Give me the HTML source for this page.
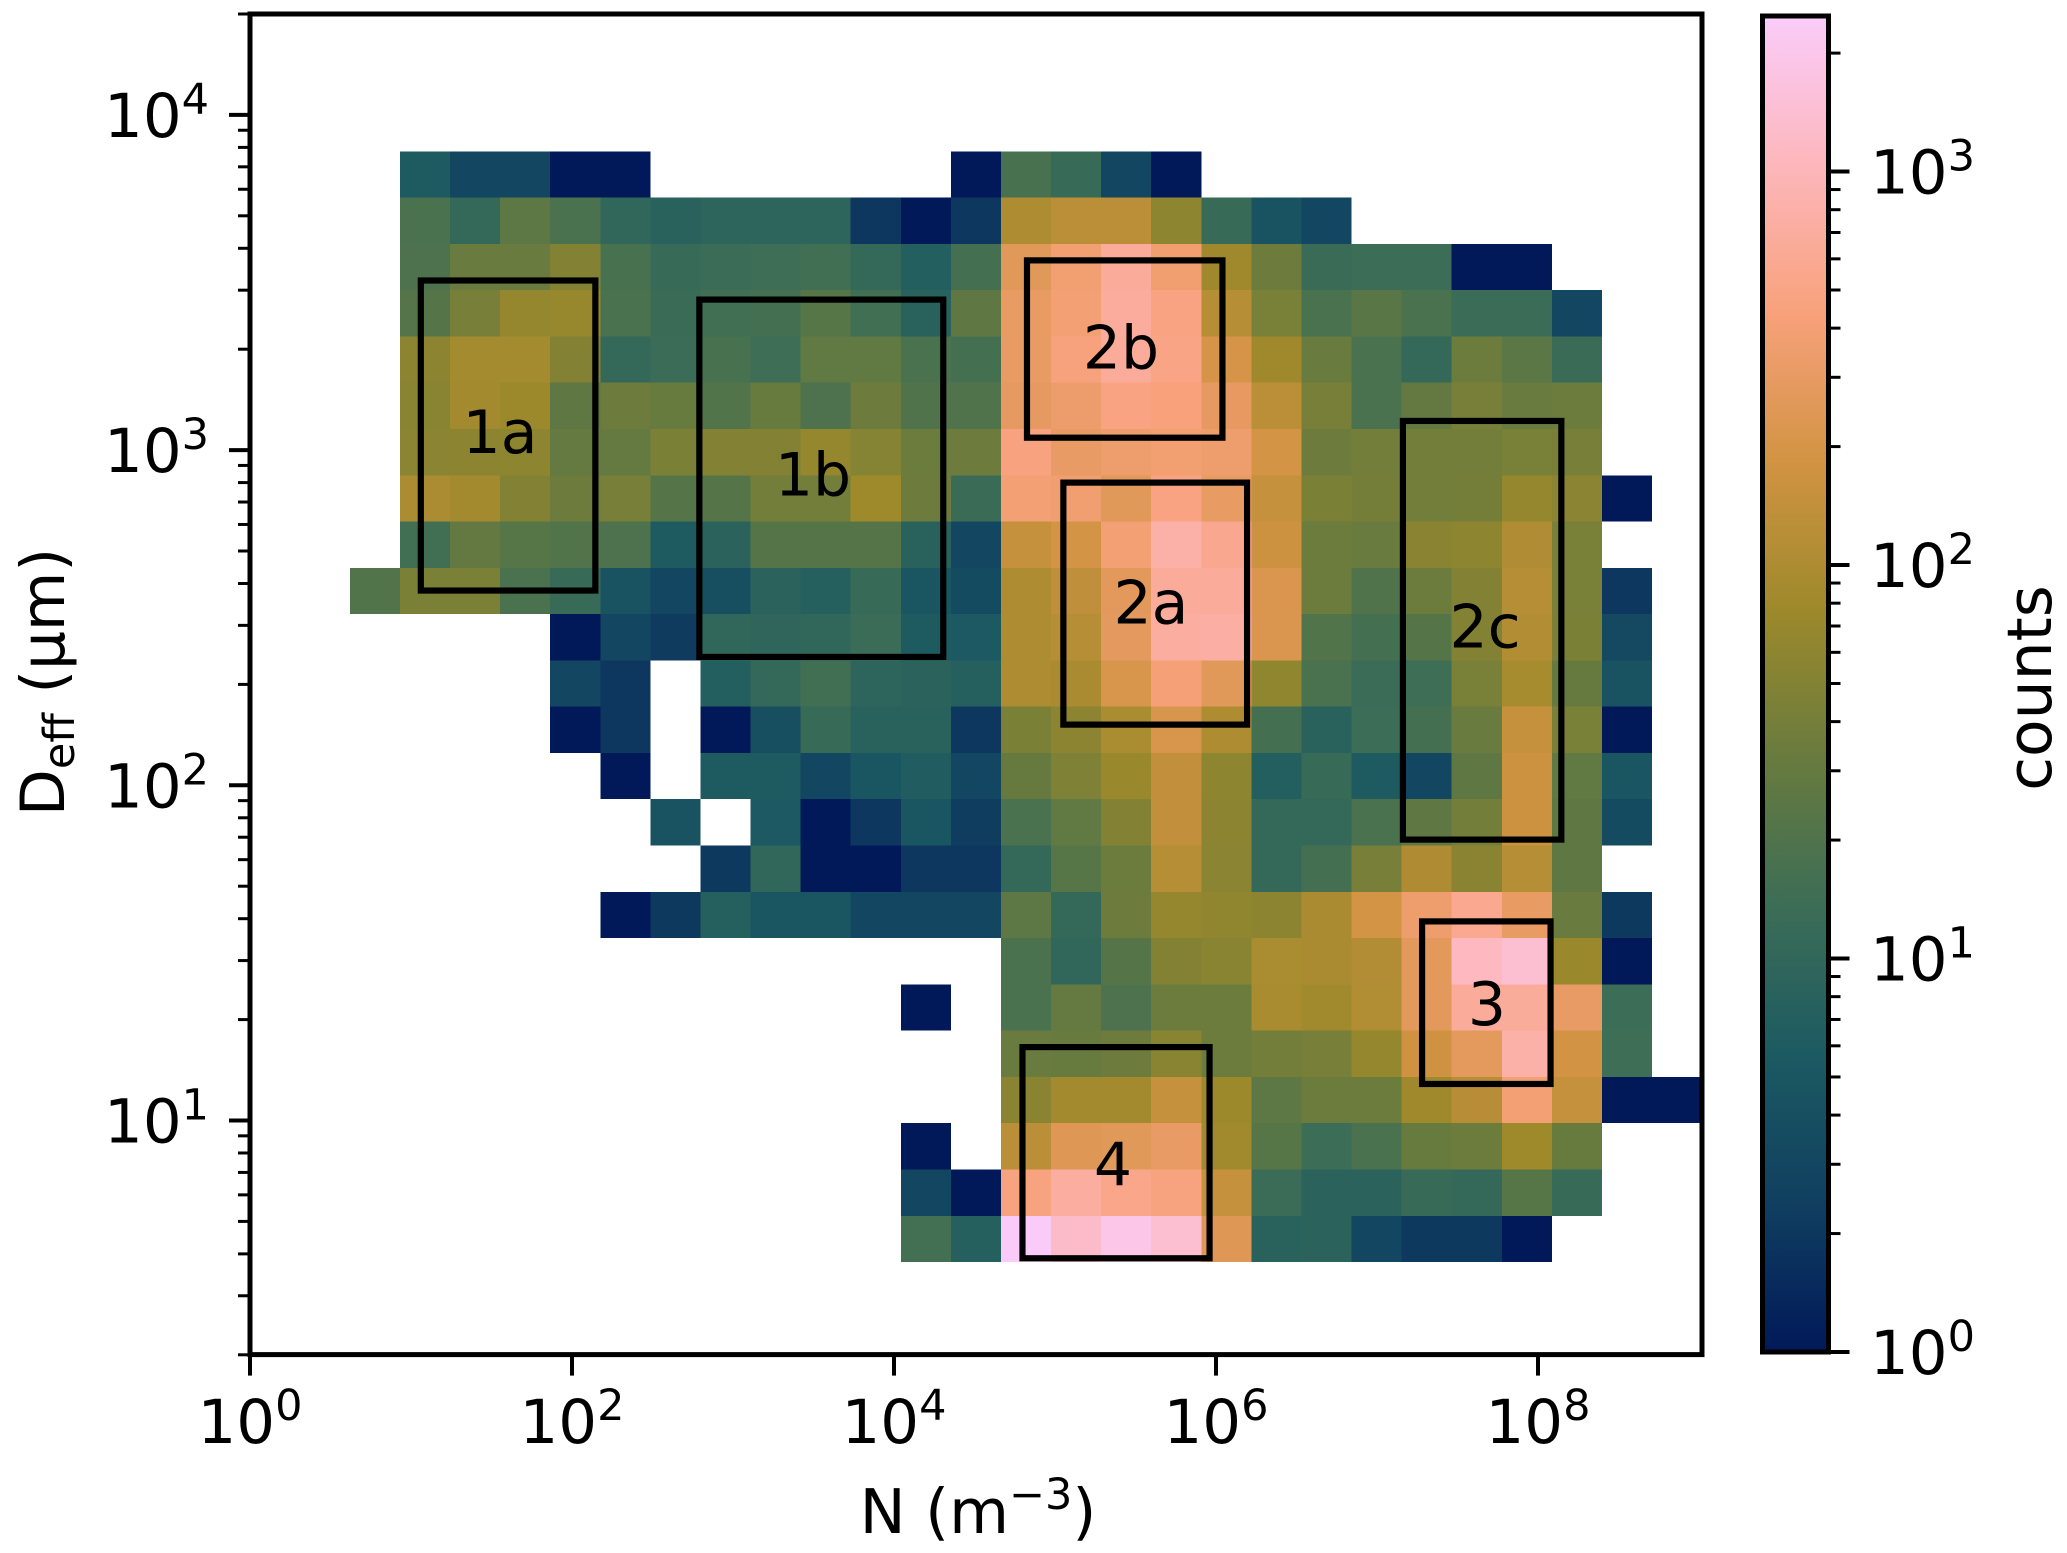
<!DOCTYPE html>
<html lang="en">
<head>
<meta charset="utf-8">
<title>Counts of N versus Deff</title>
<style>
  html, body { margin: 0; padding: 0; background: #fff; }
  svg { display: block; }
  text { font-family: "DejaVu Sans", "Liberation Sans", sans-serif; fill: #000; }
</style>
</head>
<body>
<svg id="chart" xmlns="http://www.w3.org/2000/svg" width="2067" height="1553" viewBox="0 0 2067 1553">
  <rect x="0" y="0" width="2067" height="1553" fill="#fff"/>
  <g id="cells" shape-rendering="crispEdges"></g>
  <g id="regions"></g>
  <g id="axes"></g>
  <g id="colorbar"></g>
  <text x="978" y="1533" font-size="61.5" text-anchor="middle">N (m<tspan font-size="43" dy="-24">−3</tspan><tspan dy="24">)</tspan></text>
  <text transform="translate(64 682) rotate(-90)" font-size="61" text-anchor="middle">D<tspan font-size="43" dy="10">eff</tspan><tspan dy="-10"> (μm)</tspan></text>
  <text transform="translate(2051 688) rotate(-90)" font-size="61.5" text-anchor="middle">counts</text>
</svg>
<script>
// Histogram bins (log10 units)
const logNFirstEdge = 0.6205;
const logNBinWidth = 0.31106;
const logDTopEdge = 3.8914;
const logDBinHeight = 0.13807;

// Counts per bin: rows run from large Deff to small Deff, columns from small N to large N; 0 = empty
const counts = [
  [0,6,3,3,1,1,0,0,0,0,0,0,1,17,12,3,1,0,0,0,0,0,0,0,0,0,0],
  [0,18,11,26,18,10,8,9,9,9,2,1,2,100,125,125,60,12,4.5,3,0,0,0,0,0,0,0],
  [0,19,33,33,50,17,12,13,14,15,11,7,16,260,380,650,370,80,35,12.5,13.5,13.5,1,1,0,0,0],
  [0,22,42,67,70,18,12.5,15,16,23,15,8,27,300,400,680,480,115,43,18,24,18,13,13,3,0,0],
  [0,58,88,88,50,11,13,17,14,28,28,18,16,300,450,650,500,200,80,33,18,11,34,25,12.5,0,0],
  [0,55,85,76,27,35,32,21,32,19,35,20,20,290,340,480,440,290,125,42,18,29,42,33,34,0,0],
  [0,57,58,60,30,30,44,50,50,68,52,34,35,460,310,350,380,350,190,35,38,38,38,43,42,0,0],
  [0,98,85,50,35,42,22,22,38,38,78,35,12.5,400,370,260,480,300,150,44,40,38,40,66,57,1,0],
  [0,15,29,23,21,19,6,8.5,22,22,22,8,3,150,190,400,800,560,165,34,33,56,60,105,43,0,0],
  [21,44,44,18,12,4.5,3,4,8.5,7.5,12,5,3.5,100,135,270,650,650,220,34,20,34,50,115,43,2,0],
  [0,0,0,0,1,3,2.2,10,9.5,10,13,6,5.5,100,115,280,720,760,220,21,16,22,50,108,44,3.3,0],
  [0,0,0,0,3,2,0,7,11,15,9,8.5,7.5,100,95,210,420,260,62,18,13,14,43,90,31,4.5,0],
  [0,0,0,0,1,2,0,1,4,12,8,8,2,44,58,96,210,100,16,8,13.5,16,33,150,43,1,0],
  [0,0,0,0,0,1,0,6,6,3,5,6.5,3,31,47,72,140,60,7,12,6,3,27,165,28,5,0],
  [0,0,0,0,0,0,4.5,0,5.5,1,2,5,2.3,18,28,50,140,58,11,11,18,27,38,165,27,3.5,0],
  [0,0,0,0,0,0,0,2.1,10,1,1,2,2,11,23,34,115,57,11,16,41,103,56,115,27,0,0],
  [0,0,0,0,0,1,2.1,7.5,5,5,3,3,3,26,11,35,68,62,58,95,190,350,580,300,33,2.1,0],
  [0,0,0,0,0,0,0,0,0,0,0,0,0,18,10,22,50,55,96,95,110,270,1100,1400,72,1,0],
  [0,0,0,0,0,0,0,0,0,0,0,1,0,18,30,19,34,34,93,82,107,270,650,670,310,13.5,0],
  [0,0,0,0,0,0,0,0,0,0,0,0,0,33,32,35,55,34,38,41,68,175,275,800,185,14,0],
  [0,0,0,0,0,0,0,0,0,0,0,0,0,56,85,85,150,76,26,34,34,80,118,400,150,1,1],
  [0,0,0,0,0,0,0,0,0,0,0,1,0,125,240,260,310,82,23,13.5,18,32,34,78,32,0,0],
  [0,0,0,0,0,0,0,0,0,0,0,3,1,470,720,540,470,150,13,8.5,8.5,12,11,23,12,0,0],
  [0,0,0,0,0,0,0,0,0,0,0,15.5,7.5,2400,1250,1900,1400,240,8,8.5,3,2.1,2.1,1,0,0,0]
];

// Tick exponents
const xTickExponents = [0, 2, 4, 6, 8];
const yTickExponents = [1, 2, 3, 4];
const cbarTickExponents = [0, 1, 2, 3];
const minorMultipliers = [2, 3, 4, 5, 6, 7, 8, 9];

// Colour scale
const countMin = 1;
const countMax = 2485;
const batlowStops = ["#011959","#103F60","#1C5A62","#3C6D56","#687B3E","#9D892B","#D29343","#F8A17B","#FDB7BC","#FACCFA"];

// Annotated regions, bounds in log10 units of N and Deff
const regionNames = ["1a","1b","2b","2a","2c","3","4"];
const regionLogNMin = [1.061,2.791,4.826,5.052,7.161,7.280,4.798];
const regionLogNMax = [2.145,4.306,6.040,6.193,8.145,8.078,5.960];
const regionLogDMin = [2.581,2.383,3.037,2.181,1.838,1.109,0.589];
const regionLogDMax = [3.506,3.449,3.566,2.903,3.087,1.594,1.219];
const regionLabelLogN = [1.553,3.497,5.410,5.596,7.671,7.683,5.360];
const regionLabelLogD = [2.991,2.864,3.243,2.482,2.411,1.285,0.806];

// Axis functions
const xLogMin = 0, xPixMin = 250, xPixPerDecade = 161;
const yLogRef = 1, yPixRef = 1120.5, yPixPerDecade = 335.2;
const plotLeft = 250, plotRight = 1702, plotTop = 14, plotBottom = 1354.6;
const cbLeft = 1762.5, cbRight = 1828.5, cbTop = 16, cbBottom = 1352;
function xScale(logN) { return xPixMin + (logN - xLogMin) * xPixPerDecade; }
function yScale(logD) { return yPixRef - (logD - yLogRef) * yPixPerDecade; }
function cbScale(logC) { return cbBottom - (logC / Math.log10(countMax / countMin)) * (cbBottom - cbTop); }

function hexToRgb(h) { return [1,3,5].map(function (i) { return parseInt(h.substr(i, 2), 16); }); }
function colorFor(value) {
  let t = Math.log10(value / countMin) / Math.log10(countMax / countMin);
  t = Math.max(0, Math.min(1, t));
  const p = t * (batlowStops.length - 1);
  const i = Math.min(batlowStops.length - 2, Math.floor(p));
  const f = p - i;
  const a = hexToRgb(batlowStops[i]), b = hexToRgb(batlowStops[i + 1]);
  const c = a.map(function (v, k) { return Math.round(v + (b[k] - v) * f); });
  return "rgb(" + c.join(",") + ")";
}

const NS = "http://www.w3.org/2000/svg";
function make(parent, tag, attrs) {
  const el = document.createElementNS(NS, tag);
  Object.keys(attrs).forEach(function (k) { el.setAttribute(k, attrs[k]); });
  parent.appendChild(el);
  return el;
}
function powerLabel(parent, x, y, anchor, exponent) {
  const t = make(parent, "text", { x: x, y: y, "font-size": 61, "text-anchor": anchor });
  t.appendChild(document.createTextNode("10"));
  const s = make(t, "tspan", { "font-size": 43, dy: -23 });
  s.textContent = String(exponent);
  return t;
}

const cellsG = document.getElementById("cells");
const regionsG = document.getElementById("regions");
const axesG = document.getElementById("axes");
const cbarG = document.getElementById("colorbar");

// Heatmap cells
counts.forEach(function (row, r) {
  row.forEach(function (value, c) {
    if (!value) return;
    const x0 = xScale(logNFirstEdge + c * logNBinWidth);
    const x1 = xScale(logNFirstEdge + (c + 1) * logNBinWidth);
    const y0 = yScale(logDTopEdge - r * logDBinHeight);
    const y1 = yScale(logDTopEdge - (r + 1) * logDBinHeight);
    const cell = make(cellsG, "rect", { x: x0, y: y0, width: x1 - x0, height: y1 - y0, fill: colorFor(value) });
    
    
  });
});

// Region boxes and labels
regionNames.forEach(function (name, i) {
  const x0 = xScale(regionLogNMin[i]), x1 = xScale(regionLogNMax[i]);
  const y0 = yScale(regionLogDMax[i]), y1 = yScale(regionLogDMin[i]);
  const box = make(regionsG, "rect", { x: x0, y: y0, width: x1 - x0, height: y1 - y0, fill: "none", stroke: "#000", "stroke-width": 6.2 });
  
  
  const label = make(regionsG, "text", { x: xScale(regionLabelLogN[i]), y: yScale(regionLabelLogD[i]), "font-size": 60, "text-anchor": "middle" });
  label.textContent = name;
  
  
});

// Main axes frame
const frame = make(axesG, "rect", { x: plotLeft, y: plotTop, width: plotRight - plotLeft, height: plotBottom - plotTop, fill: "none", stroke: "#000", "stroke-width": 5 });



// X ticks
xTickExponents.forEach(function (e) {
  const x = xScale(e);
  const tick = make(axesG, "line", { x1: x, x2: x, y1: plotBottom, y2: plotBottom + 21, stroke: "#000", "stroke-width": 4 });
  
  
  const lab = powerLabel(axesG, x, 1443, "middle", e);
  
  
});

// Y ticks
yTickExponents.forEach(function (e) {
  const y = yScale(e);
  const tick = make(axesG, "line", { x1: plotLeft - 21, x2: plotLeft, y1: y, y2: y, stroke: "#000", "stroke-width": 4 });
  
  
  const lab = powerLabel(axesG, 209, y + 22, "end", e);
  
  
});
[0, 1, 2, 3, 4].forEach(function (e) {
  minorMultipliers.forEach(function (m) {
    const y = yScale(e + Math.log10(m));
    if (y < plotTop - 1 || y > plotBottom + 1) return;
    const tick = make(axesG, "line", { x1: plotLeft - 12, x2: plotLeft, y1: y, y2: y, stroke: "#000", "stroke-width": 3 });
    
    
  });
});

// Colorbar gradient
const defs = make(cbarG, "defs", {});
const grad = make(defs, "linearGradient", { id: "batlow", x1: 0, y1: 1, x2: 0, y2: 0 });
batlowStops.forEach(function (col, i) {
  make(grad, "stop", { offset: i / (batlowStops.length - 1), "stop-color": col });
});
const cbFill = make(cbarG, "rect", { x: cbLeft, y: cbTop, width: cbRight - cbLeft, height: cbBottom - cbTop, fill: "url(#batlow)", stroke: "#000", "stroke-width": 5 });



cbarTickExponents.forEach(function (e) {
  const y = cbScale(e);
  const tick = make(cbarG, "line", { x1: cbRight, x2: cbRight + 21, y1: y, y2: y, stroke: "#000", "stroke-width": 4 });
  
  
  const lab = powerLabel(cbarG, 1870, y + 22, "start", e);
  
  
  minorMultipliers.forEach(function (m) {
    const ym = cbScale(e + Math.log10(m));
    if (ym < cbTop) return;
    const minor = make(cbarG, "line", { x1: cbRight, x2: cbRight + 12, y1: ym, y2: ym, stroke: "#000", "stroke-width": 3 });
    
    
  });
});
</script>
</body>
</html>
